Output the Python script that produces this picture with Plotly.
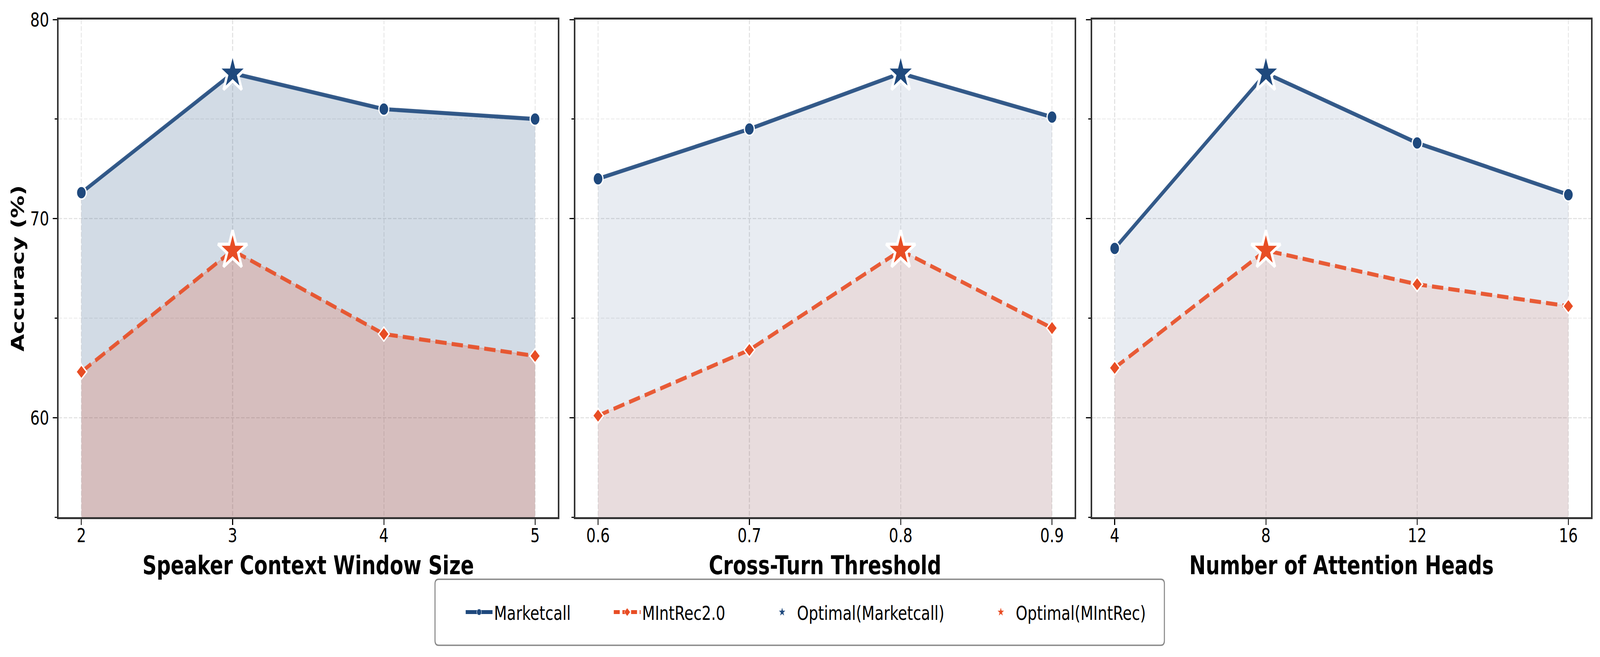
import plotly.graph_objects as go

# ---------------- data ----------------
window_sizes = [2, 3, 4, 5]
window_marketcall = [71.3, 77.3, 75.5, 75.0]
window_mintrec = [62.3, 68.4, 64.2, 63.1]

thresholds = [0.6, 0.7, 0.8, 0.9]
threshold_marketcall = [72.0, 74.5, 77.3, 75.1]
threshold_mintrec = [60.1, 63.4, 68.4, 64.5]

heads = [4, 8, 12, 16]
heads_marketcall = [68.5, 77.3, 73.8, 71.2]
heads_mintrec = [62.5, 68.4, 66.7, 65.6]

x_tick_labels = [["2", "3", "4", "5"], ["0.6", "0.7", "0.8", "0.9"], ["4", "8", "12", "16"]]
x_titles = ["Speaker Context Window Size", "Cross-Turn Threshold", "Number of Attention Heads"]
y_title = "Accuracy (%)"
series_names = ["Marketcall", "MIntRec2.0", "Optimal(Marketcall)", "Optimal(MIntRec)"]

panels = [
    (window_sizes, window_marketcall, window_mintrec),
    (thresholds, threshold_marketcall, threshold_mintrec),
    (heads, heads_marketcall, heads_mintrec),
]
fill_alphas = [0.2, 0.1, 0.1]

# ---------------- style ----------------
W, H = 5370, 1682
ML, MR, MT, MB = 197, 30, 50, 358
PW = W - ML - MR
PH = H - MT - MB
FONT = "DejaVu Sans"
BLUE = (31, 73, 125)
ORANGE = (232, 77, 36)
ITEM_W = 90           # legend symbol slot width
TEXT_GAP = ITEM_W + 10


def rgba(c, a):
    return "rgba(%d,%d,%d,%s)" % (c[0], c[1], c[2], a)


def px_x(p):
    return (p - ML) / PW


def px_y(p):
    return ((MT + PH) - p) / PH


domains = [
    [px_x(197), px_x(1872)],
    [px_x(1931), px_x(3607)],
    [px_x(3665), px_x(5340)],
]

fig = go.Figure()

for i, (xs, mc, mi) in enumerate(panels):
    xa = "x" if i == 0 else "x%d" % (i + 1)
    ya = "y" if i == 0 else "y%d" % (i + 1)
    a = fill_alphas[i]
    fig.add_trace(go.Scatter(x=xs, y=mc, xaxis=xa, yaxis=ya, mode="lines",
                             line=dict(width=3, color=rgba(BLUE, a)), fill="tozeroy",
                             fillcolor=rgba(BLUE, a), showlegend=False, hoverinfo="skip"))
    fig.add_trace(go.Scatter(x=xs, y=mi, xaxis=xa, yaxis=ya, mode="lines",
                             line=dict(width=3, color=rgba(ORANGE, a)), fill="tozeroy",
                             fillcolor=rgba(ORANGE, a), showlegend=False, hoverinfo="skip"))
    fig.add_trace(go.Scatter(x=xs, y=mc, xaxis=xa, yaxis=ya, mode="lines+markers",
                             name=series_names[0], showlegend=False,
                             line=dict(color=rgba(BLUE, 0.9), width=10.4),
                             marker=dict(symbol="circle", size=33, color=rgba(BLUE, 1),
                                         line=dict(color="white", width=4))))
    fig.add_trace(go.Scatter(x=xs, y=mi, xaxis=xa, yaxis=ya, mode="lines+markers",
                             name=series_names[1], showlegend=False,
                             line=dict(color=rgba(ORANGE, 0.9), width=10.4, dash="38px,17px"),
                             marker=dict(symbol="diamond", size=28, color=rgba(ORANGE, 1),
                                         line=dict(color="white", width=4))))
    k1 = mc.index(max(mc))
    k2 = mi.index(max(mi))
    fig.add_trace(go.Scatter(x=[xs[k1]], y=[mc[k1]], xaxis=xa, yaxis=ya, mode="markers",
                             name=series_names[2], showlegend=False,
                             marker=dict(symbol="star", size=74, color=rgba(BLUE, 1),
                                         line=dict(color="white", width=8))))
    fig.add_trace(go.Scatter(x=[xs[k2]], y=[mi[k2]], xaxis=xa, yaxis=ya, mode="markers",
                             name=series_names[3], showlegend=False,
                             marker=dict(symbol="star", size=74, color=rgba(ORANGE, 1),
                                         line=dict(color="white", width=8))))

# legend-only entries (no data points)
legend_widths = [497 - TEXT_GAP - 5, 520 - TEXT_GAP - 5, 734 - TEXT_GAP - 5, 460]
fig.add_trace(go.Scatter(x=[None], y=[None], mode="lines+markers", name=series_names[0],
                         legendwidth=legend_widths[0],
                         line=dict(color=rgba(BLUE, 1), width=10),
                         marker=dict(symbol="circle", size=16, color=rgba(BLUE, 1),
                                     line=dict(color="white", width=1))))
fig.add_trace(go.Scatter(x=[None], y=[None], mode="lines+markers", name=series_names[1],
                         legendwidth=legend_widths[1],
                         line=dict(color=rgba(ORANGE, 1), width=10, dash="20px,9px"),
                         marker=dict(symbol="diamond", size=16, color=rgba(ORANGE, 1),
                                     line=dict(color="white", width=1))))
fig.add_trace(go.Scatter(x=[None], y=[None], mode="markers", name=series_names[2],
                         legendwidth=legend_widths[2],
                         marker=dict(symbol="star", size=16, color=rgba(BLUE, 1),
                                     line=dict(width=0))))
fig.add_trace(go.Scatter(x=[None], y=[None], mode="markers", name=series_names[3],
                         legendwidth=legend_widths[3],
                         marker=dict(symbol="star", size=16, color=rgba(ORANGE, 1),
                                     line=dict(width=0))))

layout = dict(
    width=W, height=H,
    margin=dict(l=ML, r=MR, t=MT, b=MB, autoexpand=False),
    paper_bgcolor="white", plot_bgcolor="white",
    font=dict(family=FONT, size=50, color="black"),
    showlegend=True,
    legend=dict(orientation="h", x=px_x(1664 - TEXT_GAP - 6), xanchor="left",
                y=px_y(1567), yanchor="middle", font=dict(family=FONT, size=50, color="black"),
                bgcolor="rgba(0,0,0,0)", borderwidth=0, itemsizing="trace",
                itemwidth=ITEM_W, entrywidthmode="pixels", traceorder="normal"),
)

for i, (xs, mc, mi) in enumerate(panels):
    span = max(xs) - min(xs)
    xkey = "xaxis" if i == 0 else "xaxis%d" % (i + 1)
    ykey = "yaxis" if i == 0 else "yaxis%d" % (i + 1)
    layout[xkey] = dict(
        domain=domains[i], anchor="y" if i == 0 else "y%d" % (i + 1),
        range=[min(xs) - 0.05 * span, max(xs) + 0.05 * span],
        tickmode="array", tickvals=xs, ticktext=x_tick_labels[i],
        ticks="outside", ticklen=15, tickwidth=3.3, tickcolor="black",
        ticklabelstandoff=-16,
        tickfont=dict(family=FONT, size=50, color="black"),
        showline=True, mirror=True, linecolor="#333333", linewidth=5,
        showgrid=True, gridcolor="#e4e4e4", gridwidth=3.3, griddash="12px,5px",
        zeroline=False,
        title=dict(text=x_titles[i], standoff=26,
                   font=dict(family=FONT, size=66, color="black", weight="bold")),
    )
    ydict = dict(
        domain=[0, 1], anchor="x" if i == 0 else "x%d" % (i + 1),
        range=[55, 80], tick0=0, dtick=10,
        ticks="outside", ticklen=15, tickwidth=3.3, tickcolor="black",
        ticklabelstandoff=2,
        tickfont=dict(family=FONT, size=50, color="black"),
        showticklabels=(i == 0),
        showline=True, mirror=True, linecolor="#333333", linewidth=5,
        showgrid=True, gridcolor="#e4e4e4", gridwidth=3.3, griddash="12px,5px",
        zeroline=False,
        minor=dict(dtick=5, tick0=55, ticks="outside", ticklen=8, tickwidth=2.5,
                   tickcolor="black", showgrid=True, gridcolor="#f0f0f0",
                   gridwidth=3.3, griddash="12px,5px"),
    )
    if i == 0:
        ydict["title"] = dict(text=y_title, standoff=4,
                              font=dict(family=FONT, size=58, color="black", weight="bold"))
    else:
        ydict["matches"] = "y"
    layout[ykey] = ydict

# legend frame (rounded rectangle in paper coordinates)
x0, x1 = px_x(1460), px_x(3908)
y0, y1 = px_y(1652), px_y(1483)
rx, ry = 12 / PW, 12 / PH
path = ("M %f,%f L %f,%f Q %f,%f %f,%f L %f,%f Q %f,%f %f,%f L %f,%f Q %f,%f %f,%f "
        "L %f,%f Q %f,%f %f,%f Z") % (
    x0 + rx, y1, x1 - rx, y1, x1, y1, x1, y1 - ry,
    x1, y0 + ry, x1, y0, x1 - rx, y0,
    x0 + rx, y0, x0, y0, x0, y0 + ry,
    x0, y1 - ry, x0, y1, x0 + rx, y1)
layout["shapes"] = [dict(type="path", xref="paper", yref="paper", path=path,
                         line=dict(color="#888888", width=3.5), fillcolor="white",
                         layer="below")]

fig.update_layout(**layout)

# If the browser viewport is smaller than the 5370x1682 design, scale the whole
# figure so that it fits the viewport exactly.
post_js = """
(function() {
  var gd = document.getElementById('{plot_id}');
  var de = document.documentElement, b = document.body;
  de.style.margin = '0'; de.style.padding = '0'; de.style.overflow = 'hidden';
  b.style.margin = '0'; b.style.padding = '0'; b.style.overflow = 'hidden';
  var W0 = %d, H0 = %d;
  var sx = window.innerWidth / W0, sy = window.innerHeight / H0;
  if (Math.abs(sx - 1) > 1e-3 || Math.abs(sy - 1) > 1e-3) {
    gd.style.transformOrigin = '0 0';
    gd.style.transform = 'scale(' + sx + ',' + sy + ')';
  }
})();
""" % (W, H)

fig.write_html("out.html", post_script=post_js, config={"displayModeBar": False})
